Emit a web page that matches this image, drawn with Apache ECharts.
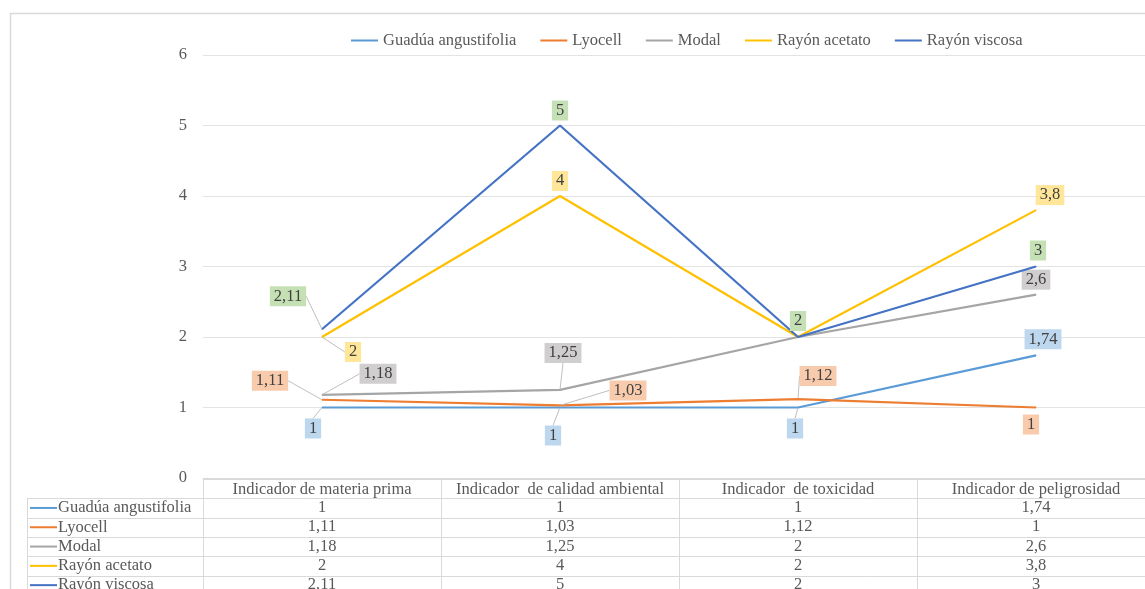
<!DOCTYPE html>
<html>
<head>
<meta charset="utf-8">
<script src="https://cdn.jsdelivr.net/npm/echarts@6/dist/echarts.min.js"></script>
<style>
  html, body { margin: 0; padding: 0; background: #fff; }
  #chart { width: 1145px; height: 589px; }
</style>
</head>
<body>
<div id="chart"></div>
<script>
  var categorias = ['Indicador de materia prima', 'Indicador  de calidad ambiental', 'Indicador  de toxicidad', 'Indicador de peligrosidad'];
  var nombres = ['Guadúa angustifolia', 'Lyocell', 'Modal', 'Rayón acetato', 'Rayón viscosa'];
  var guadua = [1, 1, 1, 1.74];
  var lyocell = [1.11, 1.03, 1.12, 1];
  var modal = [1.18, 1.25, 2, 2.6];
  var acetato = [2, 4, 2, 3.8];
  var viscosa = [2.11, 5, 2, 3];
  var yTicks = [0, 1, 2, 3, 4, 5, 6];

  var valores = [guadua, lyocell, modal, acetato, viscosa];
  var colores = ['#5B9BD5', '#ED7D31', '#A5A5A5', '#FFC000', '#4472C4'];
  var fondos = ['#BDD7EE', '#F8CBAD', '#D0CECE', '#FFE699', '#C5E0B4'];
  // desplazamiento de cada etiqueta respecto al punto (estilo Excel)
  var desplazamientos = [
    [[-9, 21], [-7, 28], [-3, 21], [7, -16]],
    [[-52, -19], [68, -15], [20, -23], [-5, 17]],
    [[56, -21], [3, -37], null, [0, -15]],
    [[31, 15], [0, -15], null, [14, -15]],
    [[-34, -33], [0, -15], [0, -16], [2, -16]]
  ];

  var GRID_LEFT = 203, GRID_TOP = 55, GRID_BOTTOM = 111, GRID_WIDTH = 952;
  var ROW_H = 19.3;
  var FONT = 'Liberation Serif, Times New Roman, serif';
  var FS = 16.5;
  var TXT = '#595959';

  function coma(v) { return String(v).replace('.', ','); }

  var myChart = echarts.init(document.getElementById('chart'));

  var series = valores.map(function (vals, s) {
    return {
      name: nombres[s],
      type: 'line',
      data: vals.map(function (v, i) {
        var d = desplazamientos[s][i];
        var lejos = d && (Math.abs(d[0]) > 16 || Math.abs(d[1]) > 18);
        return { value: v, label: { show: !!d }, labelLine: { show: !!lejos } };
      }),
      symbol: 'circle',
      symbolSize: 1,
      lineStyle: { color: colores[s], width: 2.2 },
      itemStyle: { color: colores[s] },
      z: 2 + s,
      label: {
        show: true,
        position: 'inside',
        formatter: function (p) { return coma(p.value); },
        fontFamily: FONT,
        fontSize: FS,
        color: '#404040',
        backgroundColor: fondos[s],
        padding: [2, 4, 1, 4]
      },
      labelLine: {
        show: true,
        lineStyle: { color: '#BFBFBF', width: 1 }
      },
      labelLayout: function (p) {
        var d = desplazamientos[s][p.dataIndex] || [0, 0];
        return { dx: d[0], dy: d[1] };
      },
      emphasis: { disabled: true }
    };
  });

  // filas de la tabla de datos como ejes de categorías adicionales
  var ejesTabla = valores.map(function (vals, s) {
    return {
      type: 'category',
      gridIndex: 0,
      position: 'bottom',
      offset: ROW_H * (s + 1) - 1,
      data: vals.map(coma),
      axisLine: { show: false },
      axisTick: { show: false },
      splitLine: { show: false },
      axisLabel: { interval: 0, margin: 3, fontFamily: FONT, fontSize: FS, color: TXT }
    };
  });

  var option = {
    backgroundColor: '#fff',
    animation: false,
    legend: {
      data: nombres,
      left: 346,
      top: 27,
      icon: 'rect',
      itemWidth: 27,
      itemHeight: 2,
      itemGap: 24,
      textStyle: { fontFamily: FONT, fontSize: FS, color: TXT }
    },
    grid: {
      left: GRID_LEFT, width: GRID_WIDTH, top: GRID_TOP, bottom: GRID_BOTTOM,
      containLabel: false, outerBoundsMode: 'none'
    },
    xAxis: [{
      type: 'category',
      data: categorias,
      boundaryGap: true,
      axisLine: { lineStyle: { color: '#D9D9D9' } },
      axisTick: { show: false },
      axisLabel: { interval: 0, margin: 3, fontFamily: FONT, fontSize: FS, color: TXT }
    }].concat(ejesTabla),
    yAxis: {
      type: 'value',
      min: yTicks[0],
      max: yTicks[yTicks.length - 1],
      interval: 1,
      axisLine: { show: false },
      axisTick: { show: false },
      splitLine: { lineStyle: { color: '#E3E3E3' } },
      axisLabel: { margin: 16, fontFamily: FONT, fontSize: FS, color: TXT }
    },
    series: series
  };
  myChart.setOption(option);

  // bordes de la tabla y nombres de fila
  var H = 589, W = 1145;
  var axisY = H - GRID_BOTTOM;
  var band = GRID_WIDTH / categorias.length;
  var borde = { stroke: '#D9D9D9', lineWidth: 1 };
  var g = [];
  g.push({ type: 'rect', shape: { x: 10.5, y: 13.5, width: W, height: H }, style: { fill: null, stroke: '#D9D9D9', lineWidth: 1.5 }, silent: true });
  g.push({ type: 'line', shape: { x1: GRID_LEFT, y1: axisY + 1.5, x2: W, y2: axisY + 1.5 }, style: borde });
  for (var r = 1; r <= nombres.length + 1; r++) {
    var yy = Math.round(axisY + 1 + ROW_H * r) + 0.5;
    g.push({ type: 'line', shape: { x1: 27, y1: yy, x2: W, y2: yy }, style: borde });
  }
  g.push({ type: 'line', shape: { x1: 27.5, y1: axisY + 1 + ROW_H, x2: 27.5, y2: H }, style: borde });
  for (var c = 0; c < categorias.length; c++) {
    var xx = Math.round(GRID_LEFT + band * c) + 0.5;
    g.push({ type: 'line', shape: { x1: xx, y1: axisY + 1, x2: xx, y2: H }, style: borde });
  }
  nombres.forEach(function (n, s) {
    var cy = axisY + 1 + ROW_H * (s + 1.5);
    g.push({ type: 'line', shape: { x1: 30, y1: cy, x2: 57, y2: cy }, style: { stroke: colores[s], lineWidth: 2 } });
    g.push({ type: 'text', x: 58, y: cy, style: { text: n, font: FS + 'px ' + FONT, fill: TXT, verticalAlign: 'middle', align: 'left' } });
  });
  myChart.setOption({ graphic: g });
</script>
</body>
</html>
